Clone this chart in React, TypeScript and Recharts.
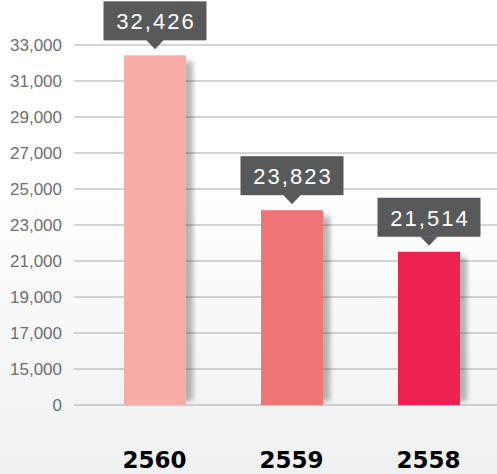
import React from "react";
import { BarChart, Bar, XAxis, YAxis, CartesianGrid, Cell, LabelList } from "recharts";

const years = ["2560", "2559", "2558"];
const totals = [32426, 23823, 21514];
const barColors = ["#f7aca6", "#f07576", "#ec2350"];
const yTicks = [13000, 15000, 17000, 19000, 21000, 23000, 25000, 27000, 29000, 31000, 33000];

const data = years.map((year, i) => ({ year, total: totals[i] }));

const fmt = (v: number) => v.toLocaleString("en-US");

function ShadowBar(props: any) {
  const { x, y, width, height, fill, index } = props;
  const id = `bar-shadow-${index}`;
  return (
    <g>
      <defs>
        <filter id={id} x="-50%" y="-20%" width="200%" height="140%">
          <feGaussianBlur stdDeviation="2.5" />
        </filter>
      </defs>
      <rect x={x + 7} y={y + 6} width={width} height={Math.max(height - 10, 0)} fill="#000" opacity={0.28} filter={`url(#${id})`} />
      <rect x={x} y={y} width={width} height={height} fill={fill} />
    </g>
  );
}

function Bubble(props: any) {
  const { x, y, width, value } = props;
  const cx = x + width / 2;
  const w = 103;
  return (
    <g>
      <rect x={cx - w / 2} y={y - 54} width={w} height={39} fill="#58595b" />
      <polygon points={`${cx - 9},${y - 15.5} ${cx + 9},${y - 15.5} ${cx},${y - 6}`} fill="#58595b" />
      <text
        x={cx + 1}
        y={y - 26}
        textAnchor="middle"
        fill="#ffffff"
        fontSize={22}
        letterSpacing={2}
        fontFamily="Liberation Sans, Arial, sans-serif"
      >
        {fmt(value)}
      </text>
    </g>
  );
}

export default function App() {
  return (
    <div
      style={{
        position: "absolute",
        left: 0,
        top: 0,
        width: 497,
        height: 474,
        background: "linear-gradient(to bottom, #ffffff 0%, #ffffff 40%, #eff0f0 100%)",
      }}
    >
      <BarChart width={497} height={474} data={data} margin={{ top: 45, right: 0, left: 0, bottom: 0 }}>
        <CartesianGrid vertical={false} stroke="#a7a9ac" strokeWidth={1.2} />
        <XAxis
          dataKey="year"
          axisLine={false}
          tickLine={false}
          tickSize={0}
          tickMargin={47}
          height={69}
          padding={{ left: 12, right: 0 }}
          tick={{ fill: "#000000", fontSize: 23, fontWeight: "bold", fontFamily: "DejaVu Sans, sans-serif" }}
        />
        <YAxis
          width={74}
          domain={[13000, 33000]}
          ticks={yTicks}
          allowDataOverflow
          axisLine={false}
          tickLine={false}
          tickSize={0}
          tickMargin={12}
          tickFormatter={(v: number) => (v === yTicks[0] ? "0" : fmt(v))}
          tick={{ fill: "#6d6e70", fontSize: 17, fontFamily: "Liberation Sans, Arial, sans-serif" }}
        />
        <Bar dataKey="total" barSize={62} isAnimationActive={false} shape={<ShadowBar />}>
          {data.map((d, i) => (
            <Cell key={d.year} fill={barColors[i]} />
          ))}
          <LabelList dataKey="total" content={<Bubble />} />
        </Bar>
      </BarChart>
    </div>
  );
}
